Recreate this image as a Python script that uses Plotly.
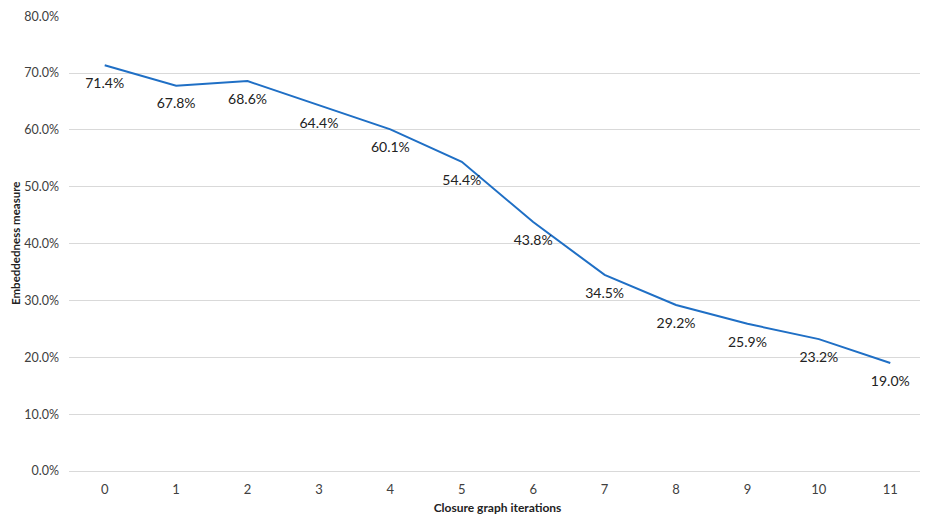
import plotly.graph_objects as go

iterations = [str(i) for i in range(12)]
embeddedness = [71.4, 67.8, 68.6, 64.4, 60.1, 54.4, 43.8, 34.5, 29.2, 25.9, 23.2, 19.0]
y_ticks = [0, 10, 20, 30, 40, 50, 60, 70, 80]

fig = go.Figure(go.Scatter(
    x=iterations,
    y=embeddedness,
    mode="lines+markers+text",
    line=dict(color="#1f6fc5", width=2),
    marker=dict(size=18, opacity=0, color="#1f6fc5"),
    text=[f"{v:.1f}%" for v in embeddedness],
    textposition="bottom center",
    textfont=dict(size=14, color="#222222", family="Lato"),
    cliponaxis=False,
    hoverinfo="x+y",
))

# page body adds an 8px offset, so the margins are shifted to compensate
fig.update_layout(
    width=928, height=517,
    margin=dict(l=61, r=10, t=8, b=54, autoexpand=False),
    plot_bgcolor="white",
    paper_bgcolor="white",
    font=dict(family="Lato", color="#404040"),
    showlegend=False,
    xaxis=dict(
        type="category",
        range=[-0.5, 11.5],
        automargin=False,
        showgrid=False,
        showline=False,
        zeroline=False,
        ticks="",
        ticklabelstandoff=9,
        tickfont=dict(size=13, color="#404040"),
        title=dict(text="<b>Closure graph iterations</b>", font=dict(size=12, color="#222222"), standoff=7),
    ),
    yaxis=dict(
        range=[0, 80.05],
        automargin=False,
        tickvals=y_ticks,
        ticktext=[f"{v:.1f}%" for v in y_ticks],
        ticklabeloverflow="allow",
        showgrid=True,
        gridcolor="#d9d9d9",
        gridwidth=1,
        zeroline=True,
        zerolinecolor="#d9d9d9",
        zerolinewidth=1,
        showline=False,
        ticks="",
        ticklabelstandoff=9,
        tickfont=dict(size=12.5, color="#404040"),
    ),
)

# y title as an annotation so it can sit at the far left edge
fig.add_annotation(
    text="<b>Embeddedness measure</b>",
    textangle=-90,
    xref="paper", yref="paper",
    x=-61 / 857, y=0.5,
    xanchor="left", yanchor="middle",
    borderpad=0,
    showarrow=False,
    font=dict(size=11.5, color="#222222"),
)

fig.write_html("out.html")
